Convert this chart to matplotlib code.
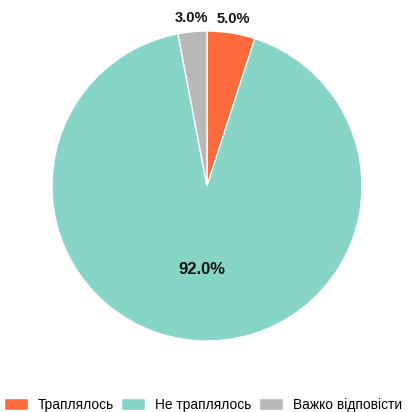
import matplotlib
matplotlib.use("Agg")
import matplotlib.pyplot as plt
import numpy as np

categories = ["Траплялось", "Не траплялось", "Важко відповісти"]
values = [5.0, 92.0, 3.0]
colors = ["#FF6A3D", "#86D5C6", "#B8B8B8"]

plt.rcParams['font.family'] = ['Liberation Sans', 'DejaVu Sans']

W, H = 408, 412
fig = plt.figure(figsize=(W/100, H/100), dpi=100)
cx, cy, r = 207, 186, 155
ax = fig.add_axes([(cx-r)/W, (H-cy-r)/H, 2*r/W, 2*r/H])

wedges, texts, autotexts = ax.pie(values, colors=colors, startangle=90, counterclock=False,
                                  autopct='%1.1f%%', pctdistance=0.54,
                                  wedgeprops=dict(edgecolor='white', linewidth=1),
                                  textprops=dict(fontsize=12, fontweight='bold', color='#111111'))
ax.set_xlim(-1, 1)
ax.set_ylim(-1, 1)
ax.set_aspect('equal')
for w, t, v in zip(wedges, autotexts, values):
    if v < 10:
        ang = np.deg2rad((w.theta1 + w.theta2) / 2)
        t.set_position((1.09*np.cos(ang), 1.09*np.sin(ang)))
        t.set_va('center')
        t.set_ha('center')
        t.set_fontsize(10.5)

fig.legend(wedges, categories, loc='center', bbox_to_anchor=(0.497, 1-405/H), ncol=3,
           frameon=False, fontsize=9.9, handlelength=1.75, handleheight=1.0,
           handletextpad=0.7, columnspacing=0.55, borderaxespad=0, borderpad=0)

fig.savefig("out.png", dpi=100)
